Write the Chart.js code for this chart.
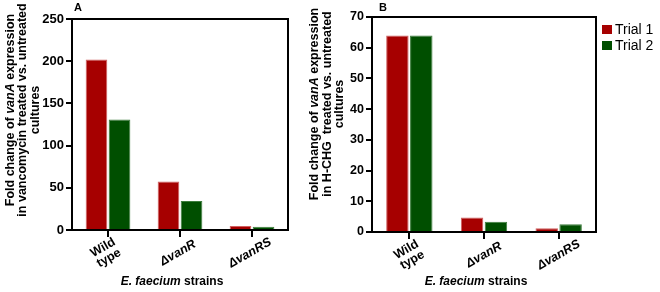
<!DOCTYPE html>
<html>
<head>
<meta charset="utf-8">
<script src="https://cdn.jsdelivr.net/npm/chart.js@4"></script>
<style>
    body { margin: 0; background: #fff; }
    #wrap { position: relative; width: 660px; height: 292px; }
    #panelA { position: absolute; left: 0; top: 0; }
    #panelB { position: absolute; left: 300px; top: 0; }
</style>
</head>
<body>
<div id="wrap">
    <canvas id="panelA" width="300" height="292"></canvas>
    <canvas id="panelB" width="360" height="292"></canvas>
</div>
<script>
// data
const strains = ['Wild type', 'ΔvanR', 'ΔvanRS'];
const seriesNames = ['Trial 1', 'Trial 2'];
const vancoTrial1 = [202, 57.5, 4.7];
const vancoTrial2 = [131, 34.5, 3.9];
const hchgTrial1 = [64, 4.7, 1.2];
const hchgTrial2 = [64, 3.3, 2.5];
const yTicksA = [0, 50, 100, 150, 200, 250];
const yTicksB = [0, 10, 20, 30, 40, 50, 60, 70];

const RED = '#a60000';
const GREEN = '#004f00';
const FONT = '"Liberation Sans", Arial, sans-serif';

// draw a line made of plain / italic pieces, centred on x
function drawRich(ctx, parts, x, y, size) {
    let total = 0;
    parts.forEach(p => {
        ctx.font = (p.i ? 'italic ' : '') + 'bold ' + size + 'px ' + FONT;
        p.w = ctx.measureText(p.t).width;
        total += p.w;
    });
    let cx = x - total / 2;
    ctx.textAlign = 'left';
    parts.forEach(p => {
        ctx.font = (p.i ? 'italic ' : '') + 'bold ' + size + 'px ' + FONT;
        ctx.fillText(p.t, cx, y);
        cx += p.w;
    });
}

function decorations(opts) {
    return {
        id: 'decor',
        afterDraw(chart) {
            const ctx = chart.ctx;
            const a = chart.chartArea;
            ctx.save();
            ctx.fillStyle = '#000';
            ctx.strokeStyle = '#000';

            // frame round the plot
            ctx.lineWidth = 2;
            ctx.beginPath();
            ctx.moveTo(a.left, a.top);
            ctx.lineTo(a.right, a.top);
            ctx.lineTo(a.right, a.bottom);
            ctx.stroke();

            // panel letter
            ctx.font = 'bold 11px ' + FONT;
            ctx.textAlign = 'left';
            ctx.textBaseline = 'middle';
            ctx.fillText(opts.letter, a.left + opts.letterDx, 8);

            // y axis title
            ctx.save();
            ctx.translate(opts.titleX, opts.titleY);
            ctx.rotate(-Math.PI / 2);
            ctx.textBaseline = 'middle';
            opts.yTitle.forEach((line, k) => {
                drawRich(ctx, line, 0, k * 12.5, 12.5);
            });
            ctx.restore();

            // rotated category labels
            const xs = chart.scales.x;
            chart.data.labels.forEach((lab, i) => {
                const px = xs.getPixelForTick(i);
                ctx.save();
                ctx.translate(px + opts.labDx, a.bottom + 23);
                ctx.rotate(-Math.PI / 6);
                ctx.textAlign = 'center';
                ctx.textBaseline = 'middle';
                const italic = lab.startsWith('Δ');
                ctx.font = (italic ? 'italic ' : '') + 'bold 12.5px ' + FONT;
                const lines = italic ? [lab] : lab.split(' ');
                lines.forEach((ln, k) => {
                    ctx.fillText(ln, 0, (k - (lines.length - 1) / 2) * 12);
                });
                ctx.restore();
            });

            // x axis title
            ctx.textBaseline = 'middle';
            drawRich(ctx, [{ t: 'E. faecium', i: true }, { t: ' strains' }],
                (a.left + a.right) / 2 - 8, 282, 12);

            // legend
            if (opts.legend) {
                ctx.font = '14px ' + FONT;
                ctx.textAlign = 'left';
                ctx.textBaseline = 'middle';
                chart.data.datasets.forEach((ds, k) => {
                    const y = 30 + k * 16;
                    ctx.fillStyle = ds.backgroundColor;
                    ctx.fillRect(a.right + 6, y - 5, 10, 9);
                    ctx.fillStyle = '#000';
                    ctx.fillText(ds.label, a.right + 19, y);
                });
            }
            ctx.restore();
        }
    };
}

function makePanel(id, t1, t2, yTicks, opts) {
    new Chart(document.getElementById(id), {
        type: 'bar',
        data: {
            labels: strains,
            datasets: [
                { label: seriesNames[0], data: t1, backgroundColor: RED, borderColor: '#d06060', borderWidth: 1 },
                { label: seriesNames[1], data: t2, backgroundColor: GREEN, borderColor: '#3d7d3d', borderWidth: 1 }
            ]
        },
        options: {
            responsive: false,
            animation: false,
            devicePixelRatio: 1,
            categoryPercentage: 0.64,
            barPercentage: 0.94,
            layout: { padding: { left: 0, top: opts.top, right: opts.right, bottom: 0 } },
            plugins: { legend: { display: false }, tooltip: { enabled: false } },
            scales: {
                x: {
                    ticks: { display: false },
                    grid: { offset: false, drawOnChartArea: false, color: '#000', lineWidth: 2, tickLength: 7 },
                    border: { color: '#000', width: 2 },
                    afterFit: s => { s.height = opts.xHeight; }
                },
                y: {
                    min: yTicks[0],
                    max: yTicks[yTicks.length - 1],
                    afterBuildTicks: s => { s.ticks = yTicks.map(v => ({ value: v })); },
                    ticks: { color: '#000', padding: 2, font: { family: FONT, size: opts.tickSize, weight: 'bold' } },
                    grid: { drawOnChartArea: false, color: '#000', lineWidth: 2, tickLength: 6 },
                    border: { color: '#000', width: 2 },
                    afterFit: s => { s.width = 72; }
                }
            }
        },
        plugins: [decorations(opts)]
    });
}

makePanel('panelA', vancoTrial1, vancoTrial2, yTicksA, {
    top: 19, right: 12, xHeight: 62, tickSize: 13,
    letter: 'A', letterDx: 2, labDx: -2,
    titleX: 10.5, titleY: 110,
    yTitle: [
        [{ t: 'Fold change of ' }, { t: 'vanA', i: true }, { t: ' expression' }],
        [{ t: 'in vancomycin treated vs. untreated' }],
        [{ t: 'cultures' }]
    ]
});

makePanel('panelB', hchgTrial1, hchgTrial2, yTicksB, {
    top: 17, right: 64, xHeight: 60, tickSize: 12.5,
    letter: 'B', letterDx: 7, labDx: 0, legend: true,
    titleX: 15, titleY: 104,
    yTitle: [
        [{ t: 'Fold change of ' }, { t: 'vanA', i: true }, { t: ' expression' }],
        [{ t: 'in H-CHG  treated vs. untreated' }],
        [{ t: 'cultures' }]
    ]
});
</script>
</body>
</html>
